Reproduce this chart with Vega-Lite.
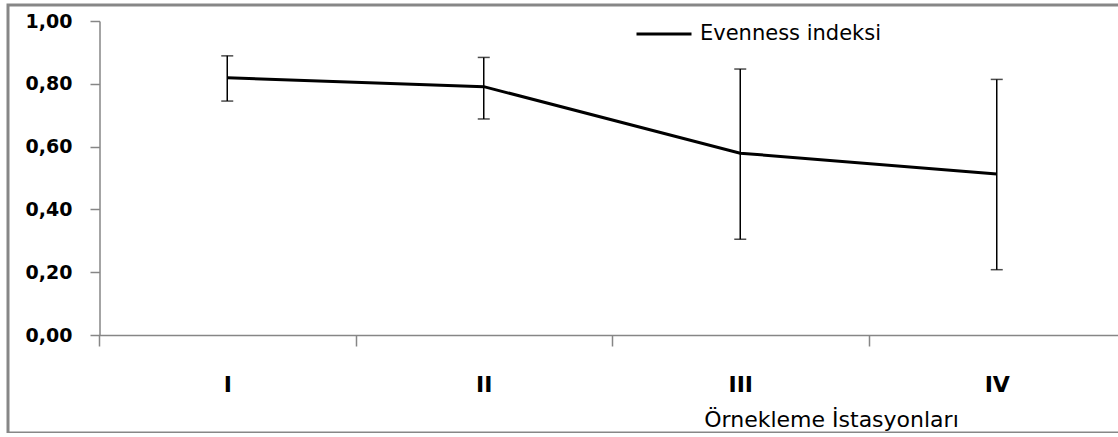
{
  "$schema": "https://vega.github.io/schema/vega-lite/v6.json",
  "width": 1130,
  "height": 428,
  "autosize": {"type": "none"},
  "padding": {"left": 8, "top": 5, "right": 0, "bottom": 0},
  "background": "white",
  "config": {
    "view": {"stroke": "#878787", "strokeWidth": 3},
    "font": "DejaVu Sans"
  },
  "data": {
    "values": [
      {"station": "I", "mean": 0.819, "low": 0.745, "high": 0.889, "series": "Evenness indeksi"},
      {"station": "II", "mean": 0.791, "low": 0.688, "high": 0.884, "series": "Evenness indeksi"},
      {"station": "III", "mean": 0.579, "low": 0.305, "high": 0.847, "series": "Evenness indeksi"},
      {"station": "IV", "mean": 0.513, "low": 0.208, "high": 0.814, "series": "Evenness indeksi"}
    ]
  },
  "layer": [
    {
      "mark": {"type": "rule", "color": "black", "strokeWidth": 1.5},
      "encoding": {
        "x": {
          "field": "station",
          "type": "ordinal",
          "bandPosition": 0.5,
          "scale": {"type": "band", "domain": ["I", "II", "III", "IV"], "range": [91, 1117], "paddingInner": 0, "paddingOuter": 0},
          "axis": {
            "orient": "bottom",
            "offset": -98,
            "tickBand": "extent",
            "labelAngle": 0,
            "labelFont": "DejaVu Sans",
            "labelFontSize": 22,
            "labelFontWeight": "bold",
            "labelColor": "black",
            "labelBaseline": "alphabetic",
            "labelPadding": 45,
            "tickSize": 11,
            "tickWidth": 1.5,
            "tickColor": "#868686",
            "domainColor": "#868686",
            "domainWidth": 1.5,
            "grid": false,
            "title": "Örnekleme İstasyonları",
            "titleFont": "DejaVu Sans",
            "titleFontSize": 22,
            "titleFontWeight": "normal",
            "titleColor": "black",
            "titleX": 823,
            "titleY": 91,
            "titleAlign": "center",
            "titleAnchor": null,
            "titleBaseline": "alphabetic"
          }
        },
        "y": {
          "field": "low",
          "type": "quantitative",
          "scale": {"domain": [0, 1], "range": [330, 16], "nice": false, "zero": false},
          "axis": {
            "values": [0, 0.2, 0.4, 0.6, 0.8, 1],
            "offset": -91.5,
            "title": null,
            "labelExpr": "replace(format(datum.value, '.2f'), '.', ',')",
            "labelFont": "DejaVu Sans",
            "labelFontSize": 19,
            "labelFontWeight": "bold",
            "labelColor": "black",
            "labelPadding": 18,
            "tickSize": 9.5,
            "tickWidth": 1.5,
            "tickColor": "#868686",
            "domainColor": "#868686",
            "domainWidth": 1.5,
            "grid": false
          }
        },
        "y2": {"field": "high"}
      }
    },
    {
      "mark": {"type": "tick", "color": "black", "size": 12, "thickness": 1.5, "orient": "horizontal"},
      "encoding": {
        "x": {"field": "station", "type": "ordinal", "bandPosition": 0.5},
        "y": {"field": "high", "type": "quantitative"}
      }
    },
    {
      "mark": {"type": "tick", "color": "black", "size": 12, "thickness": 1.5, "orient": "horizontal"},
      "encoding": {
        "x": {"field": "station", "type": "ordinal", "bandPosition": 0.5},
        "y": {"field": "low", "type": "quantitative"}
      }
    },
    {
      "mark": {"type": "line", "strokeWidth": 3},
      "encoding": {
        "x": {"field": "station", "type": "ordinal", "bandPosition": 0.5},
        "y": {"field": "mean", "type": "quantitative"},
        "color": {
          "field": "series",
          "type": "nominal",
          "scale": {"range": ["black"]},
          "legend": {
            "orient": "none",
            "legendX": 627,
            "legendY": 0,
            "title": null,
            "padding": 0,
            "symbolType": "stroke",
            "symbolSize": 3025,
            "symbolStrokeWidth": 3,
            "labelFont": "DejaVu Sans",
            "labelFontSize": 21,
            "labelColor": "black",
            "labelOffset": 7,
            "labelLimit": 0
          }
        }
      }
    }
  ]
}
